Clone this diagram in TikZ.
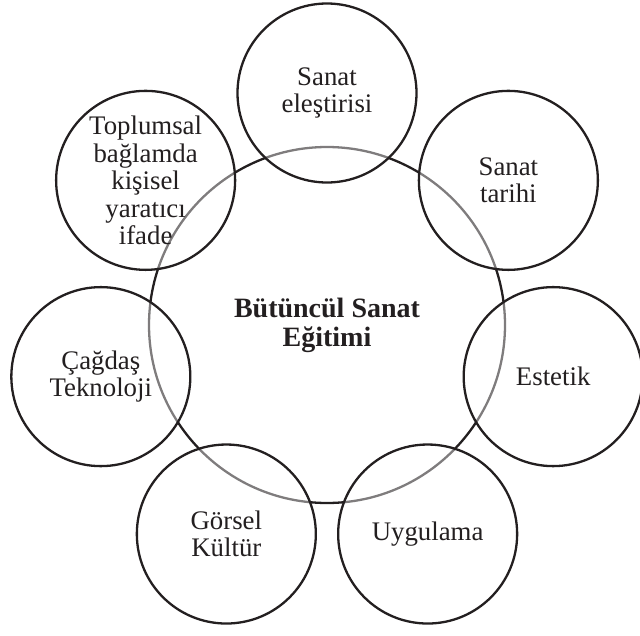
\documentclass[tikz,border=0pt]{standalone}
\usepackage{fontspec}
\setmainfont{Liberation Serif}
\usetikzlibrary{calc}
\definecolor{ink}{RGB}{35,31,32}
\begin{document}
\begin{tikzpicture}[x=1pt,y=-1pt,
  hub/.style={circle, draw=ink, line width=2.3pt, minimum size=356pt, inner sep=0pt},
  bubble/.style={circle, draw=ink, line width=2.3pt, minimum size=179pt, inner sep=0pt,
    fill=white, fill opacity=0.42, draw opacity=1},
  caption/.style={align=center, text=ink, inner sep=0pt,
    font=\fontsize{26.8}{27.5}\selectfont},
  title/.style={align=center, text=ink, inner sep=0pt,
    font=\bfseries\fontsize{28}{29}\selectfont}]
\useasboundingbox (0,0) rectangle (640,635);
\coordinate (C) at (327,325);
% central circle
\node[hub] (hub) at (C) {};
% seven surrounding circles; their half-white fill greys the hub outline inside them
\foreach \i in {0,...,6}
  \node[bubble] (b\i) at ($(C)+({90-\i*360/7}:232pt)$) {};
% labels
\node[title] (tHub) at (hub) {Bütüncül Sanat\\Eğitimi};
\node[caption] (t0) at (b0) {Sanat\\eleştirisi};
\node[caption] (t1) at (b1) {Sanat\\tarihi};
\node[caption] (t2) at (b2) {Estetik};
\node[caption] (t3) at (b3) {Uygulama};
\node[caption] (t4) at (b4) {Görsel\\Kültür};
\node[caption] (t5) at (b5) {Çağdaş\\Teknoloji};
\node[caption] (t6) at (b6) {Toplumsal\\bağlamda\\kişisel\\yaratıcı\\ifade};
\end{tikzpicture}
\end{document}
